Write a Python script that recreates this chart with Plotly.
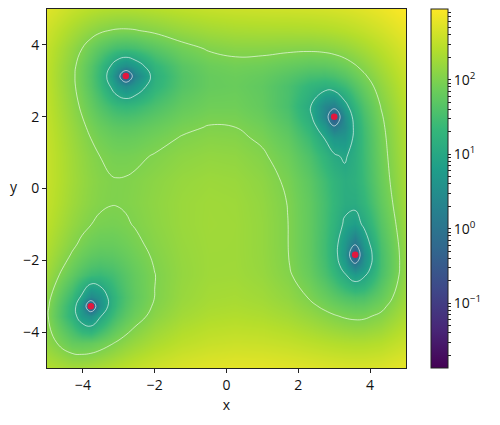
import numpy as np
import plotly.graph_objects as go

x_grid = [-5,-4.3,-4.03,-3.78,-3.53,-3.2,-3.05,-2.8,-2.55,-2,-1.25,-0.5,0.25,1,1.7,2.3,2.75,3,3.29,3.58,3.83,4.3,5]
y_grid = [-5,-4.3,-3.55,-3.28,-3.03,-2.4,-2.15,-1.85,-1.55,-1,-0.4,0.2,0.9,1.4,1.7,2,2.3,2.85,3.13,3.4,3.9,4.4,5]

# colour field, one row per y_grid entry
field = [
[250,194,195,205,222,252,268,298,329,400,489,554,587,586,560,527,502,490,480,476,479,503,610],
[136,62,57,60,71,94,107,131,157,218,294,347,370,360,328,290,263,250,238,233,235,259,366],
[109,17.2,5.3,3.4,8.7,24.4,34,53,74,124,188,231,244,227,189,148,119,105,93,87,89,113,221],
[116.5,18,3.9,0.2,3.4,16.6,25.3,42.4,62,109,168,207,218,199,160,118,87,73.6,61.7,56,57.8,82.7,192],
[128,24.4,8.3,2.6,4.3,15.4,23.1,38.7,56.8,100.6,156,193,201,180,139,96.5,66.2,52.1,40.2,34.7,36.5,61.9,172],
[173.5,56.6,35.9,26,23.7,29.7,35.2,47.2,62,98.9,146,176,179,154,110.7,66.9,36.4,22.5,10.9,5.8,8.3,35.3,148.7],
[195,73.1,50.6,39.2,35.4,39.6,44.3,55,68.5,103,147.5,175,176,149.5,105.7,61.8,31.4,17.6,6.3,1.55,4.4,32.2,147],
[221,93.9,69.4,56.2,50.7,52.8,56.6,65.8,77.9,109,151,175,175,147,102.7,58.8,28.7,15.2,4.2,0.2,3.4,32.3,149.6],
[247,114.5,88.1,73.2,66.1,66.1,69.1,77,87.7,116.7,155,177,175,146,101.7,58,28.3,15.2,4.7,1.1,5.1,35.4,155],
[290,148,118.6,100.9,91,87.7,89.2,94.7,103.4,128,161.6,180,175.6,146,101.5,58.7,30.3,18,8.7,6.5,11.8,45,170],
[325,174.4,141.6,121.2,108.6,102.1,102.2,105.6,112.2,132.9,162,178,172,142,98.8,57.9,31.4,20.5,12.9,12.6,19.8,56.8,188.4],
[344.6,185.9,150.4,127.5,112.8,103.5,102.5,104,108.9,126.5,152.8,167,160.3,131.5,90.3,52.1,28.2,18.9,13.5,15.5,24.8,66.2,205.4],
[347.2,180.4,142.1,117,100.1,88.2,86,85.9,89.4,104.3,128.3,141.8,136.1,109.7,72.2,38.2,18.3,11.4,8.9,14.2,26.5,74,223.4],
[338,166.2,126.4,99.8,81.6,68.3,65.5,64.6,67.2,81,104.2,118.1,113.9,90.3,56.2,26.1,9.4,4.6,4.6,12.5,27.2,79.6,237.2],
[329.5,155.2,114.5,87.2,68.4,54.3,51.3,49.8,52.2,65.4,88.6,103.2,100.3,78.6,46.9,19.4,4.8,1.3,3,12.7,28.9,84.5,247.3],
[320,143.3,101.8,74,54.6,39.9,36.7,34.9,37.1,50,73.5,88.9,87.5,68,39,14.3,2.1,0.2,3.4,14.9,32.8,91.7,260],
[310.7,131.9,89.8,61.3,41.6,26.5,23.1,21,22.9,35.9,59.8,76.3,76.7,59.8,33.8,12,2.4,1.75,7,20.5,40.1,102.5,276.5],
[299,117,73.9,44.8,24.4,8.7,5,2.9,4.7,18,43.4,62.8,67.3,55.6,35.7,19.9,15.3,17.7,26.5,43.9,67,136.3,321.4],
[298.2,115,71.5,42.2,21.6,5.8,2.1,0.2,1.94,15.6,42.2,63.4,70.3,61.6,45.1,32.7,30.9,34.9,45.8,65.2,90.2,163.2,354.2],
[303,118.7,74.9,45.4,24.7,8.8,5.2,3.2,5.2,19.6,47.5,70.5,80,74.5,61.4,52.4,53.4,59.2,72,93.5,120.4,197.1,394.2],
[330.7,145,101,71.3,50.6,35,31.4,29.8,32.4,48.2,79.1,106.3,121.2,122,115.9,113.8,120.3,129.3,146.1,171.7,202.3,286.2,494.9],
[392.8,206.4,162.3,132.7,112.3,97.1,94,92.9,96.2,114.1,148.8,181,201.8,209.9,211.5,216.6,229.2,241.7,262.7,292.8,327.2,419,640],
[530,343.7,300.1,270.9,251.1,237,234.4,234.4,239,260,300.3,339.4,368.3,386,397.8,412.5,433,450,476.5,512.2,551.7,653.3,890],
]

minima_x = [-2.805, 3.0, -3.779, 3.584]
minima_y = [3.131, 2.0, -3.283, -1.848]

color_min = 0.0135
color_max = 890
contour_levels = [1, 10, 100]
decade_labels = {-1: "10<sup>−1</sup>", 0: "10<sup>0</sup>", 1: "10<sup>1</sup>", 2: "10<sup>2</sup>"}

FONT = "Open Sans"
FS = 14
logz = np.log10(np.array(field, dtype=float))
lo, hi = np.log10(color_min), np.log10(color_max)

tickvals, ticktext = [], []
for d in range(-2, 3):
    for m in range(1, 10):
        v = d + np.log10(m)
        if lo <= v <= hi:
            tickvals.append(v)
            ticktext.append(decade_labels.get(d, "") if m == 1 else "")

fig = go.Figure()
fig.add_trace(go.Heatmap(
    x=x_grid, y=y_grid, z=logz, zsmooth="best", colorscale="Viridis",
    zmin=lo, zmax=hi, hoverinfo="skip",
    colorbar=dict(
        x=(431 - 47) / 359, xanchor="left", xref="paper", y=0.5, yanchor="middle",
        thickness=17, thicknessmode="pixels", len=1, lenmode="fraction",
        outlinecolor="#222", outlinewidth=1, borderwidth=0, xpad=0, ypad=0,
        tickmode="array", tickvals=tickvals, ticktext=ticktext,
        ticks="outside", ticklen=3, tickcolor="#222", tickwidth=0.8,
        tickfont=dict(family=FONT, size=FS, color="#111"),
    ),
))
fig.add_trace(go.Contour(
    x=x_grid, y=y_grid, z=logz, showscale=False, hoverinfo="skip",
    autocontour=False,
    contours=dict(coloring="none", start=float(np.log10(contour_levels[0])),
                  end=float(np.log10(contour_levels[-1])), size=1, showlabels=False),
    line=dict(color="white", width=0.6, smoothing=1.3),
))
fig.add_trace(go.Scatter(
    x=minima_x, y=minima_y, mode="markers", hoverinfo="skip",
    marker=dict(color="#e3173e", size=6.5, line=dict(width=0)), showlegend=False,
))

axis = dict(range=[-5, 5], tickmode="array", tickvals=[-4, -2, 0, 2, 4],
            showgrid=False, zeroline=False, showline=True, mirror=True,
            linecolor="#222", linewidth=1, ticks="outside", ticklen=4,
            tickcolor="#222", tickwidth=0.8,
            tickfont=dict(family=FONT, size=FS, color="#111"))
# the page adds an 8 px body margin round the figure
fig.update_layout(
    width=484, height=409, autosize=False,
    margin=dict(l=39, r=86, t=1, b=49, pad=0),
    paper_bgcolor="white", plot_bgcolor="white", showlegend=False,
    xaxis=dict(axis, title=dict(text="x", font=dict(family=FONT, size=FS, color="#111"), standoff=7)),
    yaxis=dict(axis),
    annotations=[dict(text="y", xref="paper", yref="paper", x=-0.0925, y=0.505, showarrow=False,
                      xanchor="center", yanchor="middle", font=dict(family=FONT, size=FS, color="#111"))],
)
fig.write_html("out.html")
